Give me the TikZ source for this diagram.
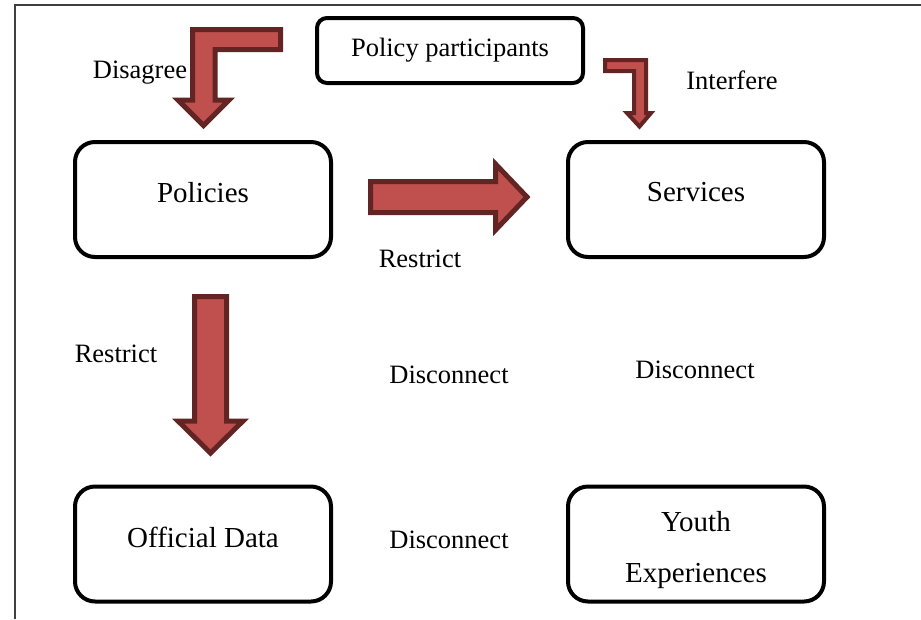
\documentclass[tikz,border=0pt]{standalone}
\usepackage{fontspec}
\setmainfont{LiberationSerif}[Extension=.ttf, UprightFont=*-Regular, BoldFont=*-Bold, ItalicFont=*-Italic]
\begin{document}
\begin{tikzpicture}[x=1pt,y=-1pt,
  box/.style={draw=black, line width=4pt, rounded corners=20pt,
    minimum width=256pt, minimum height=115pt},
  boxtext/.style={align=center, inner sep=0pt,
    font=\fontsize{29}{51}\selectfont},
  topbox/.style={draw=black, line width=4pt, rounded corners=10pt,
    minimum width=266pt, minimum height=65pt,
    font=\fontsize{26.5}{32}\selectfont},
  lbl/.style={font=\fontsize{26.5}{32}\selectfont, inner sep=0pt},
  blockarrow/.style={fill=arrowfill, draw=arrowedge, line width=5pt, line join=miter},
]
\definecolor{arrowfill}{HTML}{C0504D}
\definecolor{arrowedge}{HTML}{632523}
\definecolor{framegray}{HTML}{404040}

\useasboundingbox (0,0) rectangle (921,619);

% page frame
\draw[framegray, line width=1.5pt] (15,619) -- (15,5) -- (921,5);

% boxes
\node[topbox] (part) at (450,50.5) {Policy participants};
\node[box] (pol) at (203,199.5) {};
\node[box] (serv) at (696,199.5) {};
\node[box] (data) at (203,544) {};
\node[box] (youth) at (696,544) {};

% box texts, set a little off the box centres
\node[boxtext, yshift=7pt] (tpol) at (pol.center) {Policies};
\node[boxtext, yshift=7pt] (tserv) at (serv.center) {Services};
\node[boxtext, yshift=7pt] (tdata) at (data.center) {Official Data};
\node[boxtext, yshift=-6pt] (tyouth) at (youth.center) {Youth\\Experiences};

% labels
\node[lbl] (ldis) at (140,73) {Disagree};
\node[lbl] (lint) at (732,80) {Interfere};
\node[lbl] (lres1) at (420,259) {Restrict};
\node[lbl] (lres2) at (116,354) {Restrict};
\node[lbl] (ldc1) at (449,375) {Disconnect};
\node[lbl] (ldc2) at (695,370) {Disconnect};
\node[lbl] (ldc3) at (449,540) {Disconnect};

% bent arrow: participants -> policies
\draw[blockarrow] (192.5,29.5) -- (280.5,29.5) -- (280.5,49.5) -- (215,49.5)
  -- (215,100) -- (229,100) -- (203.5,125.5) -- (178,100) -- (192.5,100) -- cycle;

% bent arrow: participants -> services
\draw[blockarrow, line width=4pt] (605,60) -- (646,60) -- (646,113) -- (651,113)
  -- (639.5,126.5) -- (627,113) -- (634,113) -- (634,71) -- (605,71) -- cycle;

% policies -> services
\draw[blockarrow] (370.5,181.5) -- (495.5,181.5) -- (495.5,164) -- (527,197)
  -- (495.5,230) -- (495.5,212.5) -- (370.5,212.5) -- cycle;

% policies -> official data
\draw[blockarrow] (194.5,296.5) -- (226.5,296.5) -- (226.5,421) -- (243,421)
  -- (210.5,453) -- (178,421) -- (194.5,421) -- cycle;
\end{tikzpicture}
\end{document}
